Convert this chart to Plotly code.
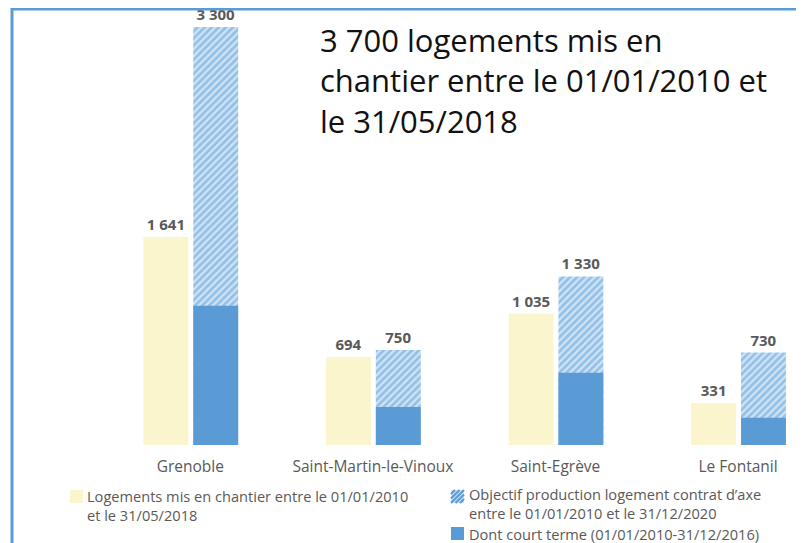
import plotly.graph_objects as go

# ---- data ----
communes = ["Grenoble", "Saint-Martin-le-Vinoux", "Saint-Egrève", "Le Fontanil"]
logements = [1641, 694, 1035, 331]
objectif = [3300, 750, 1330, 730]
court_terme = [1100, 300, 570, 215]

name_log = "Logements mis en chantier entre le 01/01/2010 et le 31/05/2018"
name_obj = "Objectif production logement contrat d’axe entre le 01/01/2010 et le 31/12/2020"
name_ct = "Dont court terme (01/01/2010-31/12/2016)"
legend_text_log = "Logements mis en chantier entre le 01/01/2010<br>et le 31/05/2018"
legend_text_obj = "Objectif production logement contrat d’axe<br>entre le 01/01/2010 et le 31/12/2020"
legend_text_ct = "Dont court terme (01/01/2010-31/12/2016)"
title_text = "3 700 logements mis en<br>chantier entre le 01/01/2010 et<br>le 31/05/2018"

def fmt(v):
    return f"{v:,}".replace(",", " ")

YELLOW = "#faf5cd"
BLUE = "#5b9bd5"
LIGHT = "#cfe4f7"
GREY = "#595959"
W = 0.246
FONT = "Open Sans"

# The page body has an 8px default margin: the figure is sized to fit the window.
OFF = 8
FW, FH = 804 - OFF, 543 - OFF
ML, MR, MT, MB = 18, 2, 0, 98
PW, PH = FW - ML - MR, FH - MT - MB
YMAX = 3449

# helpers: window pixel -> paper coordinates (for decorations only)
def px(x):
    return (x - OFF - ML) / PW

def py(y):
    return (FH - MB - (y - OFF)) / PH

fig = go.Figure()
fig.add_trace(go.Bar(
    x=communes, y=logements, name=name_log, width=W, offset=-0.257,
    marker=dict(color=YELLOW, line=dict(width=0)),
    text=[fmt(v) for v in logements], textposition="outside",
    textfont=dict(family=FONT, size=15, color=GREY, weight="bold"),
    cliponaxis=False,
))
fig.add_trace(go.Bar(
    x=communes, y=objectif, name=name_obj, width=W, offset=0.016,
    marker=dict(color=LIGHT, line=dict(width=0),
                pattern=dict(shape="/", fgcolor=BLUE, bgcolor=LIGHT, size=5, solidity=0.55)),
    text=[fmt(v) for v in objectif], textposition="outside",
    textfont=dict(family=FONT, size=15, color=GREY, weight="bold"),
    cliponaxis=False,
))
fig.add_trace(go.Bar(
    x=communes, y=court_terme, name=name_ct, width=W, offset=0.016,
    marker=dict(color=BLUE, line=dict(width=0)),
))

shapes = [
    # frame lines (top and left)
    dict(type="line", xref="paper", yref="paper", x0=px(12), x1=px(812), y0=py(9), y1=py(9),
         line=dict(color=BLUE, width=3)),
    dict(type="line", xref="paper", yref="paper", x0=px(12), x1=px(12), y0=py(7.5), y1=py(552),
         line=dict(color=BLUE, width=3)),
]

annotations = [
    dict(text=title_text, xref="paper", yref="paper", x=px(318), y=py(80),
         xanchor="left", yanchor="middle", align="left", showarrow=False,
         font=dict(family=FONT, size=31, color="#111111")),
]

# ---- custom legend ----
S = 13
def swatch_rect(x0, y0, color):
    return dict(type="rect", xref="paper", yref="paper", x0=px(x0), x1=px(x0 + S),
                y0=py(y0 + S), y1=py(y0), fillcolor=color, line=dict(width=0))

def legend_label(text, x, yc):
    return dict(text=text, xref="paper", yref="paper", x=px(x), y=py(yc),
                xanchor="left", yanchor="middle", align="left", showarrow=False,
                borderpad=0, font=dict(family=FONT, size=14.6, color=GREY))

shapes.append(swatch_rect(70, 490, YELLOW))
annotations.append(legend_label(legend_text_log, 86, 505))

# hatched swatch
hx, hy = 451, 490
shapes.append(swatch_rect(hx, hy, LIGHT))
for c in [-9, -4.5, 0, 4.5, 9]:
    ax0, ay0 = max(0, c), max(0, -c)
    ax1, ay1 = min(S, S + c), min(S, S - c)
    shapes.append(dict(type="line", xref="paper", yref="paper",
                       x0=px(hx + ax0), y0=py(hy + S - ay0), x1=px(hx + ax1), y1=py(hy + S - ay1),
                       line=dict(color=BLUE, width=2.2)))
annotations.append(legend_label(legend_text_obj, 468, 504))

shapes.append(swatch_rect(451, 527, BLUE))
annotations.append(legend_label(legend_text_ct, 468, 533.5))

fig.update_layout(
    width=FW, height=FH,
    barmode="overlay",
    plot_bgcolor="white", paper_bgcolor="white",
    margin=dict(l=ML, r=MR, t=MT, b=MB, autoexpand=False),
    font=dict(family=FONT, size=15, color=GREY),
    xaxis=dict(range=[-0.9, 3.35], showgrid=False, showline=False, ticks="",
               tickfont=dict(family=FONT, size=15.5, color=GREY), ticklabelstandoff=10),
    yaxis=dict(range=[0, YMAX], visible=False),
    showlegend=False,
    shapes=shapes,
    annotations=annotations,
)

fig.write_html("out.html")
